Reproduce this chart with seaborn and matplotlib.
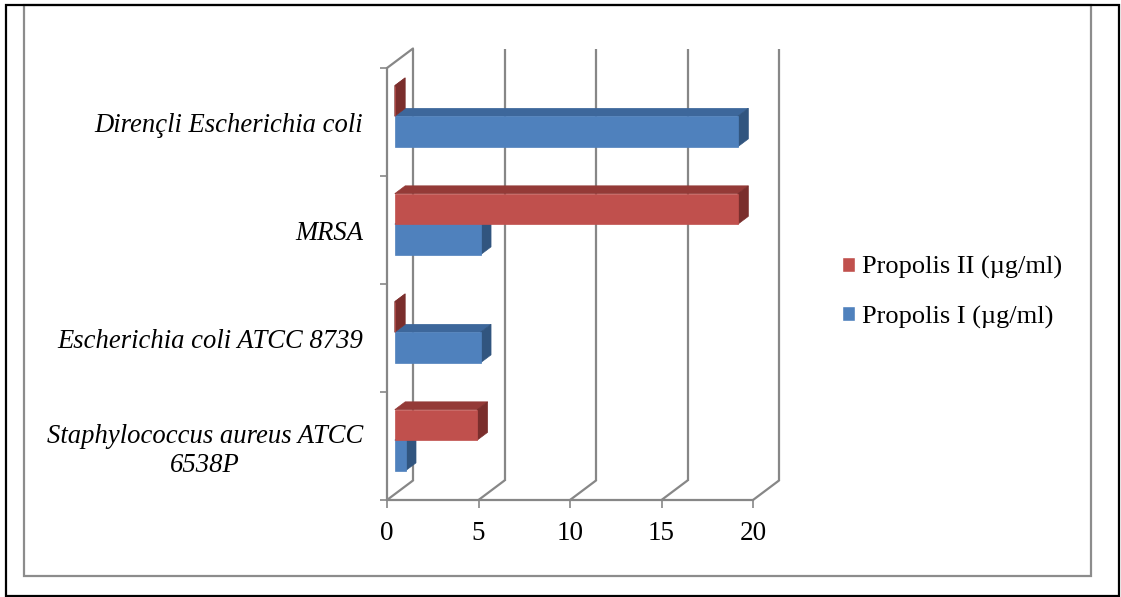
import numpy as np
import pandas as pd
import matplotlib
matplotlib.use("Agg")
import matplotlib.pyplot as plt
from matplotlib.patches import Polygon, Rectangle
from matplotlib.transforms import ScaledTranslation
import seaborn as sns

# --- data -------------------------------------------------------------
organisms = [
    "Dirençli Escherichia coli",
    "MRSA",
    "Escherichia coli ATCC 8739",
    "Staphylococcus aureus ATCC\n6538P",
]
propolis_I = [18.75, 4.69, 4.69, 0.59]
propolis_II = [0.0, 18.75, 0.0, 4.5]
series_names = ["Propolis II (µg/ml)", "Propolis I (µg/ml)"]
x_ticks = [0, 5, 10, 15, 20]

df = pd.DataFrame({
    "organism": organisms * 2,
    "value": propolis_II + propolis_I,
    "extract": [series_names[0]] * 4 + [series_names[1]] * 4,
})

# --- style ------------------------------------------------------------
sns.set_style("white")
plt.rcParams["font.family"] = ["Liberation Serif", "DejaVu Serif"]
plt.rcParams["text.color"] = "black"
plt.rcParams["xtick.labelcolor"] = "black"
plt.rcParams["ytick.labelcolor"] = "black"

W, H, DPI = 1121, 597, 100
fig = plt.figure(figsize=(W / DPI, H / DPI), dpi=DPI)

# front plane of the 3-D box, in pixels
fx0, fx1, fy0, fy1 = 387, 753, 68, 500
ax = fig.add_axes([fx0 / W, 1 - fy1 / H, (fx1 - fx0) / W, (fy1 - fy0) / H])

front = {series_names[0]: "#C0504D", series_names[1]: "#4F81BD"}
top_c = {series_names[0]: "#943A37", series_names[1]: "#3D679B"}
side_c = {series_names[0]: "#7A2E2C", series_names[1]: "#31557F"}

sns.barplot(data=df, y="organism", x="value", hue="extract", orient="h",
            order=organisms, hue_order=series_names, palette=front,
            width=0.565, saturation=1, errorbar=None, ax=ax, legend=True)

ax.set_xlim(0, 20)
ax.set_ylim(3.5, -0.5)

# oblique depth: full box depth is 26 px right, 19.5 px up
px_x = (fx1 - fx0) / 20.0
px_y = (fy1 - fy0) / 4.0
Dx, Dy = 26.0 / px_x, -19.5 / px_y
f_front, f_back = 0.3, 0.7
shift = ScaledTranslation(f_front * 26.0 / DPI, f_front * 19.5 / DPI,
                          fig.dpi_scale_trans)
tr = ax.transData + shift
bd = f_back - f_front

grid_col = "#878787"
# back wall gridlines, floor diagonals, front axis lines
for v in x_ticks:
    ax.plot([v + Dx, v + Dx], [3.5 + Dy, -0.5 + Dy], color=grid_col, lw=1.6,
            clip_on=False, zorder=1, solid_capstyle="butt")
    ax.plot([v, v + Dx], [3.5, 3.5 + Dy], color=grid_col, lw=1.6,
            clip_on=False, zorder=1)
ax.plot([0, 20], [3.5, 3.5], color=grid_col, lw=1.6, clip_on=False, zorder=1)
ax.plot([0, 0], [-0.5, 3.5], color=grid_col, lw=1.6, clip_on=False, zorder=1)
ax.plot([0, Dx], [-0.5, -0.5 + Dy], color=grid_col, lw=1.6, clip_on=False,
        zorder=1)

# bars: move front faces back and add top / side faces
bars = [p for p in ax.patches if isinstance(p, Rectangle)]
for bar, name in zip(bars, [series_names[0]] * 4 + [series_names[1]] * 4):
    x, y = bar.get_x(), bar.get_y()
    w, h = bar.get_width(), bar.get_height()
    z = 5 + (4 - (y + h / 2)) * 0.5
    bar.set_transform(tr)
    bar.set_zorder(z + 0.2)
    bar.set_edgecolor(front[name])
    bar.set_linewidth(0.5)
    bar.set_clip_on(False)
    topf = Polygon([(x, y), (x + w, y), (x + w + bd * Dx, y + bd * Dy),
                    (x + bd * Dx, y + bd * Dy)], closed=True,
                   facecolor=top_c[name], edgecolor=top_c[name], lw=0.5,
                   transform=tr, zorder=z, clip_on=False)
    sidef = Polygon([(x + w, y), (x + w, y + h),
                     (x + w + bd * Dx, y + h + bd * Dy),
                     (x + w + bd * Dx, y + bd * Dy)], closed=True,
                    facecolor=side_c[name], edgecolor=side_c[name], lw=0.5,
                    transform=tr, zorder=z + 0.1, clip_on=False)
    ax.add_patch(topf)
    ax.add_patch(sidef)

for s in ax.spines.values():
    s.set_visible(False)

ax.set_xticks(x_ticks)
ax.set_xticklabels([str(t) for t in x_ticks])
ax.set_yticks(range(4))
ax.set_yticklabels(organisms, fontstyle="italic", fontsize=19.2,
                   multialignment="center", color="black")
ax.set_yticks([-0.5, 0.5, 1.5, 2.5, 3.5], minor=True)
ax.tick_params(axis="x", direction="out", length=6, width=1.2,
               color=grid_col, labelsize=19.5, pad=9, bottom=True,
               labelcolor="black")
ax.tick_params(axis="y", which="major", length=0, pad=17)
ax.tick_params(axis="y", which="minor", direction="out", length=5,
               width=1.2, color=grid_col, left=True)
ax.set_xlabel("")
ax.set_ylabel("")
ax.grid(False)

# legend
sns.move_legend(ax, loc="upper left",
                bbox_to_anchor=(842 / W, 1 - 256 / H),
                bbox_transform=fig.transFigure, frameon=False, title=None,
                fontsize=19, handlelength=0.5, handleheight=0.5,
                handletextpad=0.27, labelspacing=1.0, borderpad=0,
                borderaxespad=0)
for t in ax.get_legend().get_texts():
    t.set_color("black")

# chart and page frames
fig.patches.append(Rectangle((23.5 / W, 1 - 576 / H), (1091 - 23.5) / W,
                             (576 - 5) / H, transform=fig.transFigure,
                             fill=False, edgecolor="#8C8C8C", lw=1.6))
fig.patches.append(Rectangle((6 / W, 1 - 596 / H), (1119 - 6) / W,
                             (596 - 5) / H, transform=fig.transFigure,
                             fill=False, edgecolor="black", lw=1.6))

fig.savefig("out.png", dpi=DPI, facecolor="white")
